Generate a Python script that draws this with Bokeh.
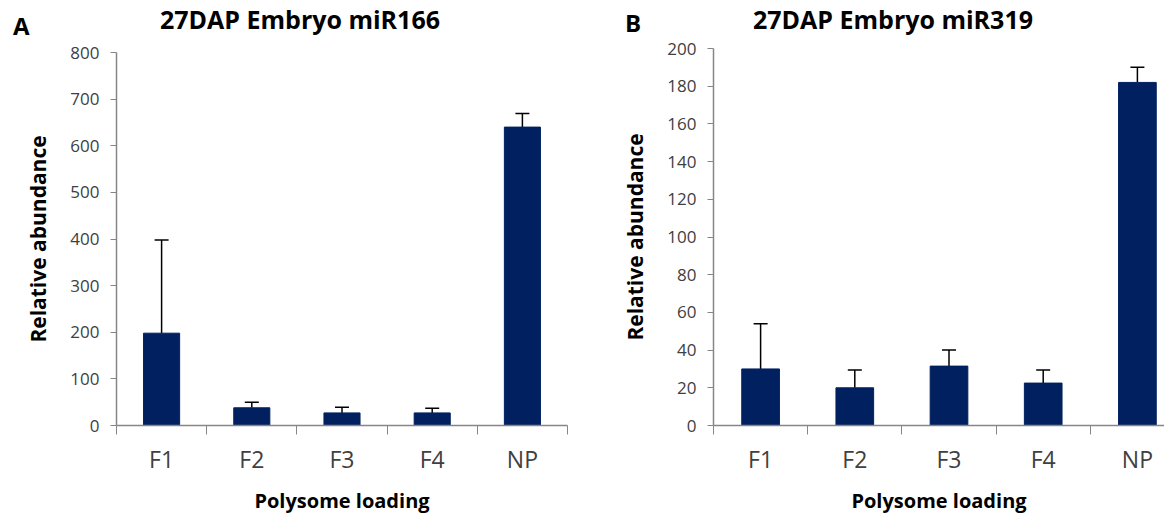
from bokeh.plotting import figure
from bokeh.models import (Range1d, FixedTicker, SingleIntervalTicker, Whisker, TeeHead,
                          ColumnDataSource, CustomJSTickFormatter, Div)
from bokeh.layouts import row, column
from bokeh.embed import file_html
from bokeh.resources import INLINE

categories = ["F1", "F2", "F3", "F4", "NP"]

a_title = "27DAP Embryo miR166"
a_values = [198, 38, 27, 27, 640]
a_errors = [200, 12, 12, 10, 29]
a_ymax = 800
a_ystep = 100

b_title = "27DAP Embryo miR319"
b_values = [30, 20, 31.5, 22.5, 182]
b_errors = [24, 9.5, 8.5, 7, 8]
b_ymax = 200
b_ystep = 20

x_label = "Polysome loading"
y_label = "Relative abundance"

FONT = "Open Sans"
BAR = "#002060"
AXIS = "#868686"
TICKTXT = "#404040"
HEADER_H = 36


def header(letter, title, width, letter_left, letter_top, title_center, title_top):
    html = (
        f'<div style="position:relative;width:{width}px;height:{HEADER_H}px;'
        f'font-family:\'Open Sans\';font-weight:bold;color:black;">'
        f'<div style="position:absolute;left:{letter_left}px;top:{letter_top}px;'
        f'font-size:24px;line-height:1;">{letter}</div>'
        f'<div style="position:absolute;left:0px;top:{title_top}px;'
        f'width:{2 * title_center}px;text-align:center;white-space:nowrap;'
        f'font-size:25px;line-height:1;">{title}</div>'
        f'</div>'
    )
    return Div(text=html, width=width, height=HEADER_H, margin=(0, 0, 0, 0))


def panel(values, errors, ymax, ystep, width, left, right, top, bottom, xend):
    n = len(categories)
    xs = [i + 0.5 for i in range(n)]
    src = ColumnDataSource(dict(x=xs, v=values,
                                u=[v + e for v, e in zip(values, errors)]))
    p = figure(width=width, height=516 - HEADER_H, output_backend="svg",
               toolbar_location=None,
               x_range=Range1d(0, xend), y_range=Range1d(0, ymax),
               min_border_left=left, min_border_right=right,
               min_border_top=top, min_border_bottom=bottom)
    p.outline_line_color = None
    p.grid.visible = False
    p.background_fill_color = "white"
    p.border_fill_color = "white"

    p.vbar(x="x", top="v", bottom=0, width=0.4, source=src,
           fill_color=BAR, line_color=BAR)
    w = Whisker(base="x", lower="v", upper="u", source=src,
                line_color="black", line_width=1.5, lower_head=None,
                upper_head=TeeHead(size=14, line_color="black", line_width=1.5))
    p.add_layout(w)

    xa = p.xaxis[0]
    xa.ticker = FixedTicker(ticks=xs, minor_ticks=list(range(n + 1)))
    xa.formatter = CustomJSTickFormatter(args=dict(cats=categories),
                                         code="return cats[Math.floor(tick)];")
    xa.major_tick_line_color = None
    xa.major_tick_out = 0
    xa.major_tick_in = 0
    xa.minor_tick_out = 9
    xa.minor_tick_in = 0
    xa.minor_tick_line_color = AXIS
    xa.axis_line_color = AXIS
    xa.axis_line_width = 1.5
    xa.major_label_text_font = FONT
    xa.major_label_text_font_size = "23px"
    xa.major_label_text_color = TICKTXT
    xa.major_label_standoff = 8
    xa.axis_label = x_label
    xa.axis_label_text_font = FONT
    xa.axis_label_text_font_style = "bold"
    xa.axis_label_text_font_size = "20px"
    xa.axis_label_text_color = "black"
    xa.axis_label_standoff = 9

    ya = p.yaxis[0]
    ya.ticker = SingleIntervalTicker(interval=ystep, num_minor_ticks=0)
    ya.minor_tick_line_color = None
    ya.major_tick_out = 6
    ya.major_tick_in = 0
    ya.major_tick_line_color = AXIS
    ya.axis_line_color = AXIS
    ya.axis_line_width = 1.5
    ya.major_label_text_font = FONT
    ya.major_label_text_font_size = "17px"
    ya.major_label_text_color = TICKTXT
    ya.major_label_standoff = 11
    ya.axis_label = y_label
    ya.axis_label_text_font = FONT
    ya.axis_label_text_font_style = "bold"
    ya.axis_label_text_font_size = "21px"
    ya.axis_label_text_color = "black"
    ya.axis_label_standoff = 15
    return p


ha = header("A", a_title, 580, letter_left=13, letter_top=14, title_center=300, title_top=7)
pa = panel(a_values, a_errors, a_ymax, a_ystep,
           width=580, left=116, right=13, top=52 - HEADER_H, bottom=91, xend=5)

hb = header("B", b_title, 584, letter_left=45, letter_top=11, title_center=313, title_top=7)
pb = panel(b_values, b_errors, b_ymax, b_ystep,
           width=584, left=133, right=0, top=48 - HEADER_H, bottom=90, xend=451 / 94.2)

layout = row(column(ha, pa, spacing=0), column(hb, pb, spacing=0), spacing=0)
open("out.html", "w").write(file_html(layout, INLINE))
